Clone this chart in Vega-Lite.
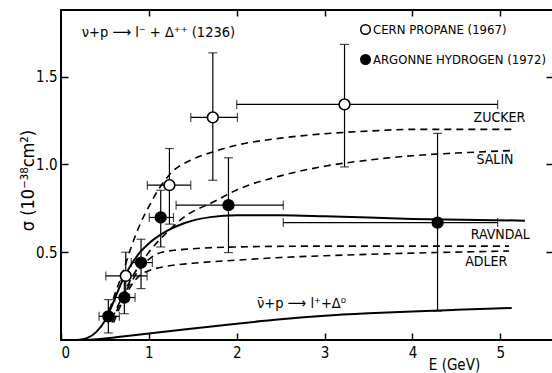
{
  "$schema": "https://vega.github.io/schema/vega-lite/v6.json",
  "width": 492,
  "height": 330,
  "autosize": {"type": "none"},
  "padding": {"left": 61, "top": 10, "right": 0, "bottom": 33},
  "background": "white",
  "config": {
    "font": "Liberation Sans Narrow, DejaVu Sans Condensed, Noto Sans Condensed, Arial Narrow, sans-serif",
    "view": {"stroke": "black", "strokeWidth": 2},
    "axis": {"grid": false, "domain": false, "tickColor": "black", "tickWidth": 1.5, "labelColor": "black", "titleColor": "black", "labelFontSize": 15, "titleFontSize": 18, "titleFontWeight": "normal", "labelFont": "Liberation Sans Narrow, DejaVu Sans Condensed, sans-serif", "titleFont": "Liberation Sans Narrow, DejaVu Sans Condensed, sans-serif"},
    "legend": {"labelFont": "Liberation Sans Narrow, DejaVu Sans Condensed, sans-serif"}
  },
  "datasets": {
    "pts": [
      {"set": "CERN PROPANE (1967)", "E": 0.737, "s": 0.365, "Elo": 0.51, "Ehi": 0.98, "slo": 0.26, "shi": 0.50},
      {"set": "CERN PROPANE (1967)", "E": 1.234, "s": 0.882, "Elo": 0.983, "Ehi": 1.477, "slo": 0.66, "shi": 1.091},
      {"set": "CERN PROPANE (1967)", "E": 1.728, "s": 1.268, "Elo": 1.477, "Ehi": 2.008, "slo": 0.91, "shi": 1.636},
      {"set": "CERN PROPANE (1967)", "E": 3.227, "s": 1.342, "Elo": 2.0, "Ehi": 4.97, "slo": 0.986, "shi": 1.684},
      {"set": "ARGONNE HYDROGEN (1972)", "E": 0.539, "s": 0.135, "Elo": 0.433, "Ehi": 0.664, "slo": 0.04, "shi": 0.23},
      {"set": "ARGONNE HYDROGEN (1972)", "E": 0.721, "s": 0.242, "Elo": 0.615, "Ehi": 0.843, "slo": 0.15, "shi": 0.34},
      {"set": "ARGONNE HYDROGEN (1972)", "E": 0.911, "s": 0.441, "Elo": 0.80, "Ehi": 1.04, "slo": 0.293, "shi": 0.574},
      {"set": "ARGONNE HYDROGEN (1972)", "E": 1.135, "s": 0.698, "Elo": 1.005, "Ehi": 1.28, "slo": 0.53, "shi": 0.853},
      {"set": "ARGONNE HYDROGEN (1972)", "E": 1.906, "s": 0.768, "Elo": 1.31, "Ehi": 2.53, "slo": 0.498, "shi": 1.038},
      {"set": "ARGONNE HYDROGEN (1972)", "E": 4.286, "s": 0.669, "Elo": 2.53, "Ehi": 4.97, "slo": 0.165, "shi": 1.177}
    ],
    "dashed": [
      {"c": "Zucker", "E": 0.55, "s": 0.17}, {"c": "Zucker", "E": 0.62, "s": 0.27}, {"c": "Zucker", "E": 0.7, "s": 0.38}, {"c": "Zucker", "E": 0.8, "s": 0.53}, {"c": "Zucker", "E": 0.9, "s": 0.66}, {"c": "Zucker", "E": 1.0, "s": 0.76}, {"c": "Zucker", "E": 1.1, "s": 0.85}, {"c": "Zucker", "E": 1.25, "s": 0.95}, {"c": "Zucker", "E": 1.5, "s": 1.03}, {"c": "Zucker", "E": 1.75, "s": 1.075}, {"c": "Zucker", "E": 2.0, "s": 1.11}, {"c": "Zucker", "E": 2.5, "s": 1.15}, {"c": "Zucker", "E": 3.0, "s": 1.175}, {"c": "Zucker", "E": 3.5, "s": 1.19}, {"c": "Zucker", "E": 4.0, "s": 1.2}, {"c": "Zucker", "E": 4.5, "s": 1.2}, {"c": "Zucker", "E": 5.15, "s": 1.2},
      {"c": "Salin", "E": 0.58, "s": 0.12}, {"c": "Salin", "E": 0.7, "s": 0.25}, {"c": "Salin", "E": 0.8, "s": 0.35}, {"c": "Salin", "E": 0.9, "s": 0.43}, {"c": "Salin", "E": 1.0, "s": 0.5}, {"c": "Salin", "E": 1.2, "s": 0.61}, {"c": "Salin", "E": 1.4, "s": 0.70}, {"c": "Salin", "E": 1.75, "s": 0.79}, {"c": "Salin", "E": 2.0, "s": 0.855}, {"c": "Salin", "E": 2.5, "s": 0.935}, {"c": "Salin", "E": 3.0, "s": 0.99}, {"c": "Salin", "E": 3.5, "s": 1.025}, {"c": "Salin", "E": 4.0, "s": 1.05}, {"c": "Salin", "E": 4.5, "s": 1.065}, {"c": "Salin", "E": 5.17, "s": 1.08},
      {"c": "Adler1", "E": 0.58, "s": 0.1}, {"c": "Adler1", "E": 0.7, "s": 0.24}, {"c": "Adler1", "E": 0.8, "s": 0.33}, {"c": "Adler1", "E": 0.9, "s": 0.41}, {"c": "Adler1", "E": 1.0, "s": 0.46}, {"c": "Adler1", "E": 1.15, "s": 0.5}, {"c": "Adler1", "E": 1.5, "s": 0.52}, {"c": "Adler1", "E": 2.0, "s": 0.53}, {"c": "Adler1", "E": 3.0, "s": 0.535}, {"c": "Adler1", "E": 4.0, "s": 0.535}, {"c": "Adler1", "E": 5.1, "s": 0.535},
      {"c": "Adler2", "E": 0.6, "s": 0.1}, {"c": "Adler2", "E": 0.7, "s": 0.22}, {"c": "Adler2", "E": 0.8, "s": 0.31}, {"c": "Adler2", "E": 0.9, "s": 0.37}, {"c": "Adler2", "E": 1.0, "s": 0.395}, {"c": "Adler2", "E": 1.2, "s": 0.42}, {"c": "Adler2", "E": 1.5, "s": 0.437}, {"c": "Adler2", "E": 2.0, "s": 0.455}, {"c": "Adler2", "E": 2.5, "s": 0.47}, {"c": "Adler2", "E": 3.0, "s": 0.48}, {"c": "Adler2", "E": 4.0, "s": 0.495}, {"c": "Adler2", "E": 5.1, "s": 0.507}
    ],
    "solid": [
      {"c": "Ravndal", "E": 0.17, "s": 0.0}, {"c": "Ravndal", "E": 0.3, "s": 0.012}, {"c": "Ravndal", "E": 0.4, "s": 0.045}, {"c": "Ravndal", "E": 0.5, "s": 0.11}, {"c": "Ravndal", "E": 0.6, "s": 0.22}, {"c": "Ravndal", "E": 0.7, "s": 0.34}, {"c": "Ravndal", "E": 0.8, "s": 0.43}, {"c": "Ravndal", "E": 0.9, "s": 0.5}, {"c": "Ravndal", "E": 1.0, "s": 0.55}, {"c": "Ravndal", "E": 1.2, "s": 0.62}, {"c": "Ravndal", "E": 1.4, "s": 0.665}, {"c": "Ravndal", "E": 1.7, "s": 0.70}, {"c": "Ravndal", "E": 2.0, "s": 0.71}, {"c": "Ravndal", "E": 2.5, "s": 0.71}, {"c": "Ravndal", "E": 3.0, "s": 0.705}, {"c": "Ravndal", "E": 4.0, "s": 0.69}, {"c": "Ravndal", "E": 5.28, "s": 0.68},
      {"c": "Anti", "E": 0.3, "s": 0.0}, {"c": "Anti", "E": 0.5, "s": 0.008}, {"c": "Anti", "E": 0.7, "s": 0.02}, {"c": "Anti", "E": 1.0, "s": 0.037}, {"c": "Anti", "E": 1.5, "s": 0.065}, {"c": "Anti", "E": 2.0, "s": 0.093}, {"c": "Anti", "E": 2.5, "s": 0.118}, {"c": "Anti", "E": 3.0, "s": 0.138}, {"c": "Anti", "E": 3.5, "s": 0.152}, {"c": "Anti", "E": 4.0, "s": 0.163}, {"c": "Anti", "E": 4.5, "s": 0.172}, {"c": "Anti", "E": 5.13, "s": 0.182}
    ],
    "labels": [
      {"t": "ZUCKER", "E": 4.99, "s": 1.262},
      {"t": "SALIN", "E": 4.94, "s": 1.025},
      {"t": "RAVNDAL", "E": 5.0, "s": 0.597},
      {"t": "ADLER", "E": 4.84, "s": 0.445}
    ],
    "notes": [
      {"t": "ν+p ⟶ l⁻ + Δ⁺⁺ (1236)", "E": 0.236, "s": 1.749},
      {"t": "ν̄+p ⟶ l⁺+Δ⁰", "E": 2.23, "s": 0.204}
    ]
  },
  "resolve": {"axis": {"x": "independent", "y": "independent"}},
  "layer": [
    {
      "data": {"name": "dashed"},
      "mark": {"type": "line", "color": "black", "strokeWidth": 1.6, "strokeDash": [7, 5], "interpolate": "monotone", "clip": true},
      "encoding": {
        "x": {"field": "E", "type": "quantitative", "scale": {"domain": [0, 5.6], "nice": false, "zero": false},
          "axis": {"orient": "bottom", "values": [0, 1, 2, 3, 4, 5], "tickSize": -7, "labelPadding": 12, "title": "E (GeV)", "titleFontSize": 15, "titleX": 393, "titleY": 24, "titleAlign": "center", "titleBaseline": "middle"}},
        "y": {"field": "s", "type": "quantitative", "scale": {"domain": [0, 1.88], "nice": false, "zero": false},
          "axis": {"orient": "left", "values": [0.5, 1.0, 1.5], "format": ".1f", "tickSize": -7, "labelPadding": 11, "title": "σ (10⁻³⁸cm²)", "titleX": -33, "titleY": 170, "titleAngle": -90, "titleAlign": "center", "titleBaseline": "middle"}},
        "detail": {"field": "c"}
      }
    },
    {
      "data": {"name": "solid"},
      "mark": {"type": "line", "color": "black", "strokeWidth": 2, "interpolate": "monotone", "clip": true},
      "encoding": {
        "x": {"field": "E", "type": "quantitative", "scale": {"domain": [0, 5.6], "nice": false, "zero": false},
          "axis": {"orient": "top", "values": [1, 2, 3, 4, 5], "tickSize": -6, "labels": false, "title": null}},
        "y": {"field": "s", "type": "quantitative", "scale": {"domain": [0, 1.88], "nice": false, "zero": false},
          "axis": {"orient": "right", "values": [0.5, 1.0, 1.5], "tickSize": -7, "labels": false, "title": null}},
        "detail": {"field": "c"}
      }
    },
    {
      "data": {"name": "pts"},
      "mark": {"type": "rule", "color": "black", "strokeWidth": 1.2},
      "encoding": {
        "x": {"field": "E", "type": "quantitative", "axis": null},
        "y": {"field": "slo", "type": "quantitative", "axis": null},
        "y2": {"field": "shi"}
      }
    },
    {
      "data": {"name": "pts"},
      "mark": {"type": "rule", "color": "black", "strokeWidth": 1.2},
      "encoding": {
        "y": {"field": "s", "type": "quantitative", "axis": null},
        "x": {"field": "Elo", "type": "quantitative", "axis": null},
        "x2": {"field": "Ehi"}
      }
    },
    {
      "data": {"name": "pts"},
      "transform": [{"fold": ["slo", "shi"], "as": ["k", "v"]}],
      "mark": {"type": "tick", "color": "black", "orient": "horizontal", "size": 9, "thickness": 1.2},
      "encoding": {
        "x": {"field": "E", "type": "quantitative", "axis": null},
        "y": {"field": "v", "type": "quantitative", "axis": null}
      }
    },
    {
      "data": {"name": "pts"},
      "transform": [{"fold": ["Elo", "Ehi"], "as": ["k", "v"]}],
      "mark": {"type": "tick", "color": "black", "orient": "vertical", "size": 9, "thickness": 1.2},
      "encoding": {
        "x": {"field": "v", "type": "quantitative", "axis": null},
        "y": {"field": "s", "type": "quantitative", "axis": null}
      }
    },
    {
      "data": {"name": "pts"},
      "mark": {"type": "point", "shape": "circle", "filled": true, "stroke": "black", "strokeWidth": 1.6, "size": 115, "opacity": 1},
      "encoding": {
        "x": {"field": "E", "type": "quantitative", "axis": null},
        "y": {"field": "s", "type": "quantitative", "axis": null},
        "fill": {"field": "set", "type": "nominal",
          "scale": {"domain": ["CERN PROPANE (1967)", "ARGONNE HYDROGEN (1972)"], "range": ["white", "black"]},
          "legend": {"orient": "none", "legendX": 298, "legendY": 13, "title": null, "labelFontSize": 13, "labelColor": "black", "labelLimit": 400, "symbolType": "circle", "symbolSize": 90, "symbolStrokeColor": "black", "symbolStrokeWidth": 1.5, "symbolOpacity": 1, "labelOffset": 1, "rowPadding": 13, "padding": 0}}
      }
    },
    {
      "data": {"name": "labels"},
      "mark": {"type": "text", "fontSize": 14, "align": "center", "baseline": "middle", "color": "black"},
      "encoding": {
        "x": {"field": "E", "type": "quantitative", "axis": null},
        "y": {"field": "s", "type": "quantitative", "axis": null},
        "text": {"field": "t"}
      }
    },
    {
      "data": {"name": "notes"},
      "mark": {"type": "text", "fontSize": 14.5, "align": "left", "baseline": "middle", "color": "black"},
      "encoding": {
        "x": {"field": "E", "type": "quantitative", "axis": null},
        "y": {"field": "s", "type": "quantitative", "axis": null},
        "text": {"field": "t"}
      }
    }
  ]
}
